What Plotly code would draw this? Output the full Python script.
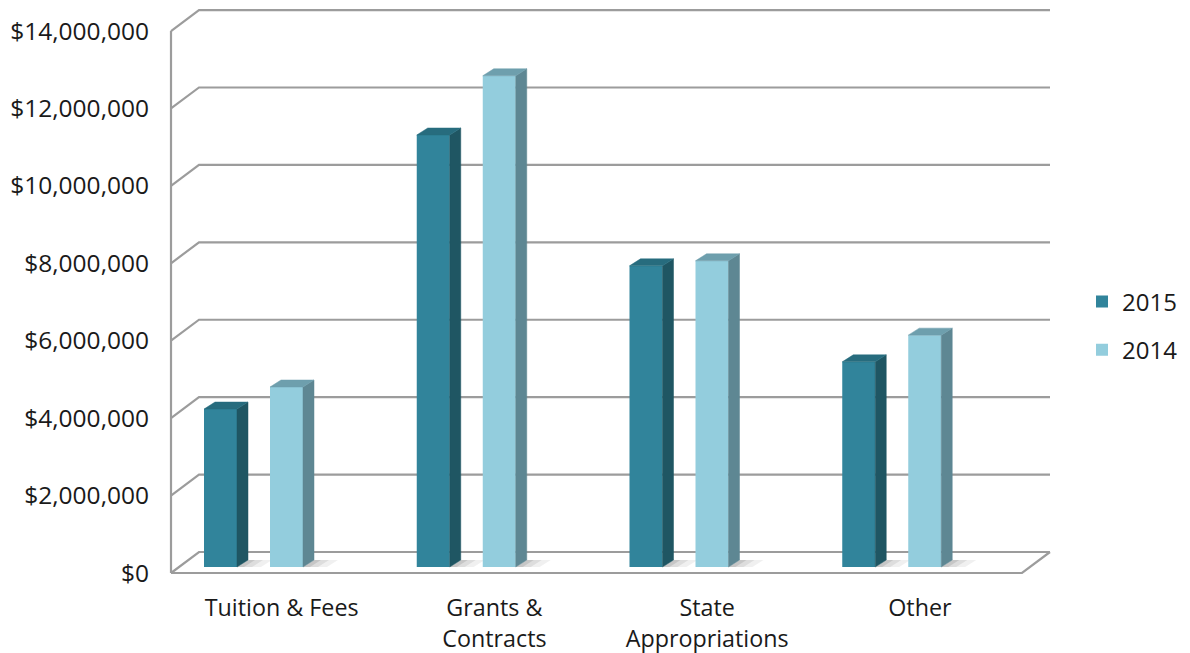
import plotly.graph_objects as go

# ---------------- data ----------------
categories = ["Tuition & Fees", "Grants &<br>Contracts", "State<br>Appropriations", "Other"]
series_names = ["2015", "2014"]
values_2015 = [4_080_000, 11_160_000, 7_780_000, 5_300_000]
values_2014 = [4_650_000, 12_690_000, 7_910_000, 5_990_000]
y_tick_values = [0, 2_000_000, 4_000_000, 6_000_000, 8_000_000, 10_000_000, 12_000_000, 14_000_000]
y_tick_labels = ["$0", "$2,000,000", "$4,000,000", "$6,000,000", "$8,000,000",
                 "$10,000,000", "$12,000,000", "$14,000,000"]

# ---------------- presentation ----------------
PX_X = 212.75          # pixels per category slot
PX_Y = 38.71 / 1e6     # pixels per dollar
ML, MR, MT, MB = 160, 130, 0, 63
X0_PX, Y0_PX = 171, 573
W, H = 1190, 653
plot_w = W - ML - MR
plot_h = H - MT - MB

x_range = [-(X0_PX - ML) / PX_X, (W - MR - X0_PX) / PX_X]
y_range = [-(MT + plot_h - Y0_PX) / PX_Y, (Y0_PX - MT) / PX_Y]

DX = 28 / PX_X          # depth shift of the back wall
DY = 21 / PX_Y
BASE = 6 / PX_Y         # bar front sits slightly into the floor depth
BW = 33 / PX_X          # bar width
SX = 11 / PX_X          # bar depth (side face)
SY = 7 / PX_Y
OFFSETS = [33 / PX_X, 99 / PX_X]
N = len(categories)
X_END = N + DX

front_cols = ["#31849B", "#93CDDD"]
side_cols = ["#1F5663", "#5E8793"]
top_cols = ["#276C7E", "#6E9FAD"]
grid_col = "#9C9C9C"

fig = go.Figure()
shapes = []

# perspective gridlines (back wall + left wall)
for v in y_tick_values:
    shapes.append(dict(type="path", xref="x", yref="y", layer="below",
                       path=f"M 0,{v} L {DX},{v + DY} L {X_END},{v + DY}",
                       line=dict(color=grid_col, width=2.2)))
# floor front edge + right edge
shapes.append(dict(type="path", xref="x", yref="y", layer="below",
                   path=f"M 0,0 L {N},0 L {N + DX},{DY}",
                   line=dict(color=grid_col, width=2.2)))
# front vertical axis
shapes.append(dict(type="path", xref="x", yref="y", layer="below",
                   path=f"M 0,0 L 0,{y_tick_values[-1]}",
                   line=dict(color=grid_col, width=2.2)))

all_vals = [values_2015, values_2014]
for s, vals in enumerate(all_vals):
    xs_c, sides_x, sides_y, tops_x, tops_y = [], [], [], [], []
    for i, v in enumerate(vals):
        L = i + OFFSETS[s]
        R = L + BW
        xs_c.append(L + BW / 2)
        top = BASE + v
        sides_x += [R, R + SX, R + SX, R, R, None]
        sides_y += [BASE, BASE + SY, top + SY, top, BASE, None]
        tops_x += [L, R, R + SX, L + SX, L, None]
        tops_y += [top, top, top + SY, top + SY, top, None]
        # soft floor shadow
        for wpx, op in [(24, 0.06), (15, 0.08), (7, 0.10)]:
            wx = wpx / PX_X
            shapes.append(dict(type="path", xref="x", yref="y", layer="below",
                               path=(f"M {R},{BASE} L {R + wx},{BASE} "
                                     f"L {R + wx + SX},{BASE + SY} L {R + SX},{BASE + SY} Z"),
                               fillcolor=f"rgba(0,0,0,{op})", line=dict(width=0)))
    fig.add_trace(go.Bar(x=xs_c, y=vals, base=BASE, width=BW, name=series_names[s],
                         legendgroup=series_names[s],
                         marker=dict(color=front_cols[s], line=dict(width=0))))
    fig.add_trace(go.Scatter(x=sides_x, y=sides_y, mode="lines", fill="toself",
                             fillcolor=side_cols[s], line=dict(color=side_cols[s], width=0.5),
                             showlegend=False, hoverinfo="skip", cliponaxis=False))
    fig.add_trace(go.Scatter(x=tops_x, y=tops_y, mode="lines", fill="toself",
                             fillcolor=top_cols[s], line=dict(color=top_cols[s], width=0.5),
                             showlegend=False, hoverinfo="skip", cliponaxis=False))

font_family = "Open Sans"
fig.update_layout(
    width=W, height=H,
    margin=dict(l=ML, r=MR, t=MT, b=MB),
    paper_bgcolor="white", plot_bgcolor="white",
    barmode="overlay",
    shapes=shapes,
    showlegend=True,
    legend=dict(xref="container", yref="container", x=1082 / W, y=1 - 326 / H,
                xanchor="left", yanchor="middle", traceorder="grouped",
                tracegroupgap=14,
                font=dict(family=font_family, size=24, color="#1a1a1a")),
    xaxis=dict(range=x_range, showgrid=False, zeroline=False, showline=False,
               tickmode="array", tickvals=[i + 0.52 for i in range(N)], ticktext=categories,
               ticks="", tickfont=dict(family=font_family, size=23.3, color="#1a1a1a"),
               ticklabelstandoff=2, fixedrange=True),
    yaxis=dict(range=y_range, showgrid=False, zeroline=False, showline=False,
               tickmode="array", tickvals=y_tick_values, ticktext=y_tick_labels,
               ticks="", tickfont=dict(family=font_family, size=24.5, color="#1a1a1a"),
               ticklabelstandoff=10, fixedrange=True),
)

fig.write_html("out.html")
